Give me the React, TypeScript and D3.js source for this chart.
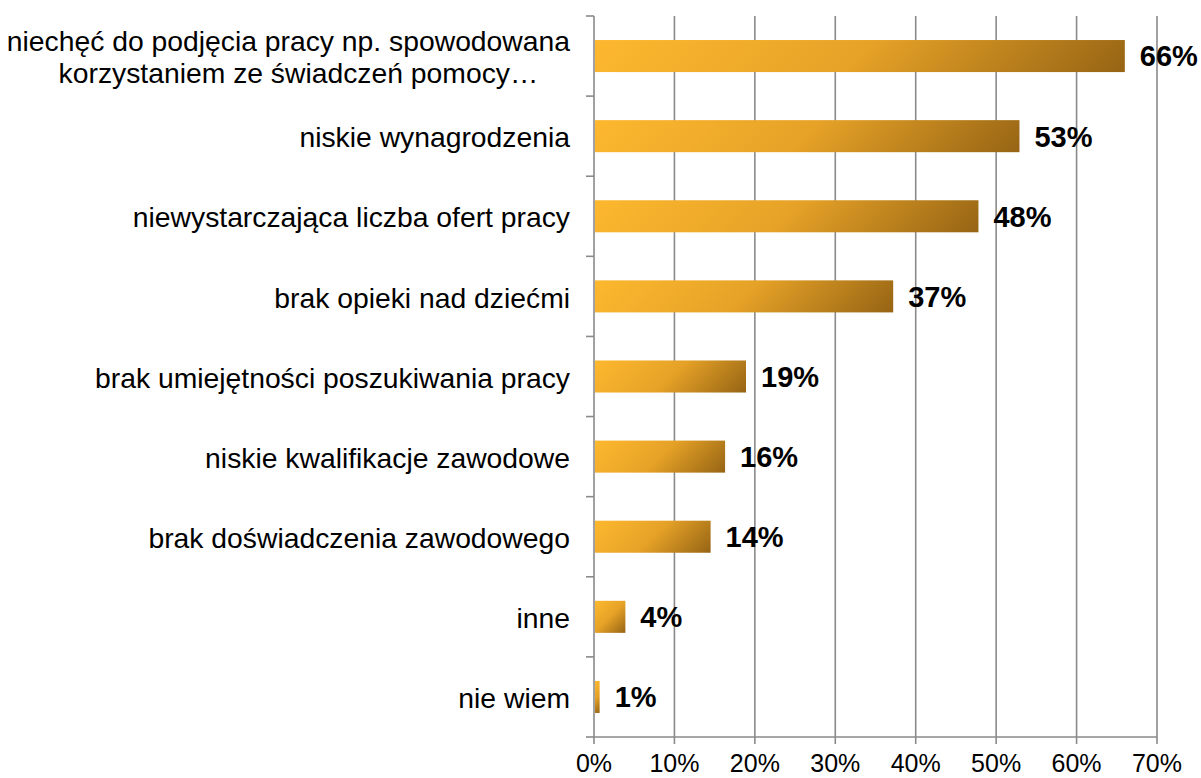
import { useEffect, useRef } from "react";
import * as d3 from "d3";

const categories = [
  "niechęć do podjęcia pracy np. spowodowana\nkorzystaniem ze świadczeń pomocy…",
  "niskie wynagrodzenia",
  "niewystarczająca liczba ofert pracy",
  "brak opieki nad dziećmi",
  "brak umiejętności poszukiwania pracy",
  "niskie kwalifikacje zawodowe",
  "brak doświadczenia zawodowego",
  "inne",
  "nie wiem",
];
const values = [66, 52.9, 47.8, 37.2, 18.9, 16.3, 14.5, 3.9, 0.7];
const labels = ["66%", "53%", "48%", "37%", "19%", "16%", "14%", "4%", "1%"];
const ticks = [0, 10, 20, 30, 40, 50, 60, 70];

const FONT = "Arial, 'Liberation Sans', sans-serif";
const GRID = "#8a8a8a";

export default function App() {
  const svgRef = useRef<SVGSVGElement>(null);

  useEffect(() => {
    if (!svgRef.current) return;
    const W = 1201, H = 778;
    const m = { left: 594, right: 44, top: 16, bottom: 41 };
    const svg = d3.select(svgRef.current);
    svg.selectAll("*").remove();
    svg.attr("width", W).attr("height", H);

    const x = d3.scaleLinear().domain([0, 70]).range([m.left, W - m.right]);
    const y = d3.scaleBand<number>()
      .domain(d3.range(categories.length))
      .range([m.top, H - m.bottom])
      .paddingInner(0.6)
      .paddingOuter(0.3);

    const x0 = x(0) + 1;
    const bw = (d: number) => Math.max(0, x(d) - x(0) - 1);
    const bh = y.bandwidth();

    // 45° gradient per bar (light top-left -> dark bottom-right)
    const defs = svg.append("defs");
    const grads = defs.selectAll("linearGradient").data(values).join("linearGradient")
      .attr("id", (_, i) => `g${i}`)
      .attr("gradientUnits", "userSpaceOnUse")
      .attr("x1", x0).attr("y1", (_, i) => y(i)!)
      .attr("x2", (d) => x0 + (bw(d) + bh) / 2)
      .attr("y2", (d, i) => y(i)! + (bw(d) + bh) / 2);
    grads.append("stop").attr("offset", "0%").attr("stop-color", "#fdb82f");
    grads.append("stop").attr("offset", "50%").attr("stop-color", "#e6a227");
    grads.append("stop").attr("offset", "100%").attr("stop-color", "#966414");

    const yTop = m.top, yBot = H - m.bottom;

    // vertical gridlines + ticks under the axis
    svg.append("g").selectAll("line").data(ticks).join("line")
      .attr("x1", (d) => x(d)).attr("x2", (d) => x(d))
      .attr("y1", yTop).attr("y2", yBot + 7)
      .attr("stroke", GRID).attr("stroke-width", 1.6);

    // bottom axis line
    svg.append("line")
      .attr("x1", x(0)).attr("x2", x(70)).attr("y1", yBot).attr("y2", yBot)
      .attr("stroke", GRID).attr("stroke-width", 1.6);

    // category boundary ticks on the left
    const step = (yBot - yTop) / categories.length;
    svg.append("g").selectAll("line").data(d3.range(categories.length + 1)).join("line")
      .attr("x1", x(0) - 8).attr("x2", x(0))
      .attr("y1", (i) => yTop + i * step).attr("y2", (i) => yTop + i * step)
      .attr("stroke", GRID).attr("stroke-width", 1.6);

    svg.append("g").selectAll("rect").data(values).join("rect")
      .attr("x", x0)
      .attr("y", (_, i) => y(i)!)
      .attr("width", (d) => bw(d))
      .attr("height", bh)
      .attr("fill", (_, i) => `url(#g${i})`);

    svg.append("g").selectAll("text").data(values).join("text")
      .attr("x", (d) => x(d) + 15)
      .attr("y", (_, i) => y(i)! + bh / 2)
      .attr("dy", "0.36em")
      .attr("font-family", FONT).attr("font-size", 29).attr("font-weight", "bold")
      .attr("fill", "#000")
      .text((_, i) => labels[i]);

    svg.append("g").selectAll("text").data(ticks).join("text")
      .attr("x", (d) => x(d))
      .attr("y", yBot + 35)
      .attr("text-anchor", "middle")
      .attr("font-family", FONT).attr("font-size", 25)
      .attr("fill", "#000")
      .text((d) => `${d}%`);

    // category labels, multi-line ones centred on each other, block right-aligned
    const labelRight = x(0) - 24;
    categories.forEach((c, i) => {
      const lines = c.split("\n");
      const cy = y(i)! + bh / 2 + 1;
      const lh = 32;
      const g = svg.append("g");
      const texts = lines.map((l, k) =>
        g.append("text")
          .attr("y", cy + (k - (lines.length - 1) / 2) * lh)
          .attr("dy", "0.36em")
          .attr("font-family", FONT).attr("font-size", 28.3)
          .attr("fill", "#000")
          .text(l)
      );
      const widths = texts.map((t) => (t.node() as SVGTextElement).getComputedTextLength());
      const maxW = d3.max(widths) ?? 0;
      const center = labelRight - maxW / 2;
      texts.forEach((t, k) => t.attr("x", k === 0 ? center : center + 10).attr("text-anchor", "middle"));
    });
  }, []);

  return (
    <svg ref={svgRef} style={{ position: "absolute", left: 0, top: 0, background: "#fff" }} />
  );
}
